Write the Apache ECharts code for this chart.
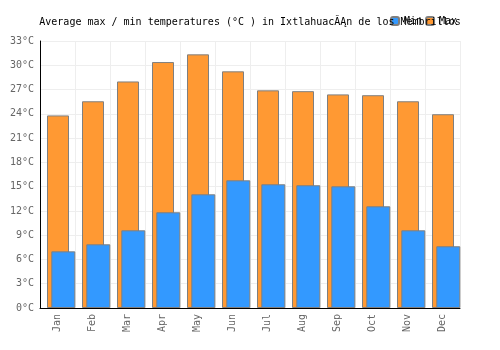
<!DOCTYPE html>
<html>
<head>
<meta charset="utf-8">
<script src="https://cdn.jsdelivr.net/npm/echarts@6/dist/echarts.min.js"></script>
<style>html,body{margin:0;padding:0;background:#fff}#c{width:500px;height:350px}</style>
</head>
<body>
<div id="c"></div>
<script>
const months = ['Jan','Feb','Mar','Apr','May','Jun','Jul','Aug','Sep','Oct','Nov','Dec'];
const maxTemps = [23.8, 25.55, 28.0, 30.4, 31.35, 29.25, 26.9, 26.8, 26.4, 26.3, 25.55, 23.95];
const minTemps = [7.0, 7.87, 9.6, 11.83, 14.05, 15.78, 15.29, 15.17, 15.04, 12.57, 9.6, 7.63];
const titleText = 'Average max / min temperatures (°C ) in IxtlahuacĂĄn de los Membrillos';
const FONT = 'DejaVu Sans Mono';

const chart = echarts.init(document.getElementById('c'), null, {renderer: 'canvas'});
chart.setOption({
  animation: false,
  backgroundColor: '#fff',
  title: {
    text: titleText,
    left: 'center',
    top: 12,
    textStyle: {fontFamily: FONT, fontSize: 10, fontWeight: 'normal', color: '#000'}
  },
  legend: {
    data: ['Min', 'Max'],
    left: 385,
    top: 11,
    itemWidth: 8,
    itemHeight: 8,
    itemGap: 3,
    textStyle: {fontFamily: FONT, fontSize: 10, color: '#000'}
  },
  grid: {left: 40, right: 40, top: 41, bottom: 42},
  xAxis: {
    type: 'category',
    data: months,
    axisLine: {lineStyle: {color: '#000', width: 1}},
    axisTick: {show: false},
    splitLine: {show: true, lineStyle: {color: '#eeeeee'}},
    axisLabel: {rotate: 90, margin: 6, fontFamily: FONT, fontSize: 10, color: '#666'}
  },
  yAxis: {
    type: 'value',
    min: 0, max: 33, interval: 3,
    axisLine: {show: true, lineStyle: {color: '#000', width: 1}},
    axisTick: {show: false},
    splitLine: {show: true, lineStyle: {color: '#eeeeee'}},
    axisLabel: {formatter: '{value}°C', margin: 6, fontFamily: FONT, fontSize: 10, color: '#666'}
  },
  series: [
    {
      name: 'Max', type: 'bar', data: maxTemps, barWidth: 22, barGap: '-80.45%',
      itemStyle: {color: '#ff9933', borderColor: '#7f7f7f', borderWidth: 1}
    },
    {
      name: 'Min', type: 'bar', data: minTemps, barWidth: 24, barGap: '-80.45%',
      itemStyle: {color: '#3399ff', borderColor: '#7f7f7f', borderWidth: 1}
    },
    {
      name: '', type: 'bar', data: [], barWidth: 12, barGap: '-80.45%'
    }
  ]
});
</script>
</body>
</html>
